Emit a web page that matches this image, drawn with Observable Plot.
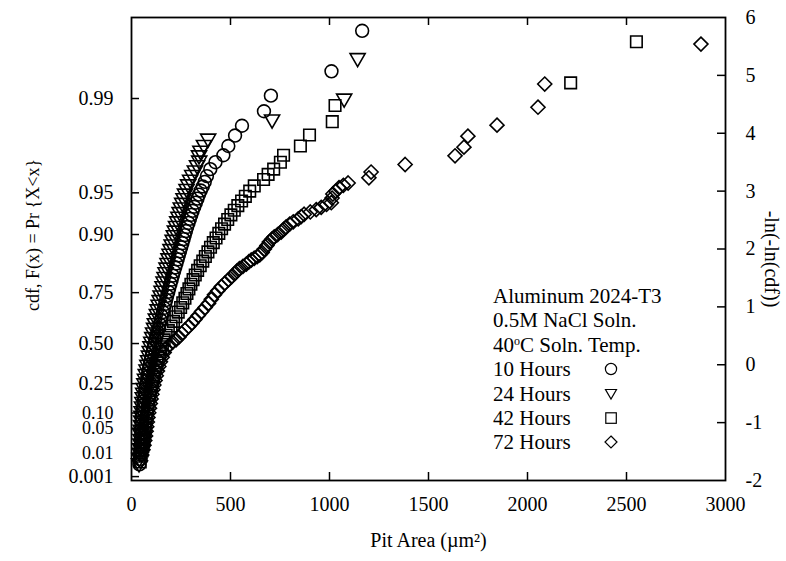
<!DOCTYPE html>
<html><head><meta charset="utf-8">
<script src="https://cdn.jsdelivr.net/npm/d3@7"></script>
<script src="https://cdn.jsdelivr.net/npm/@observablehq/plot@0.6"></script>
<style>
body{margin:0;background:#fff;}
#wrap{position:relative;width:786px;height:561px;font-family:"Liberation Serif",serif;color:#000;}
#legend{position:absolute;left:493px;top:284px;font-size:21px;line-height:24.4px;}
.row{white-space:nowrap;height:24.4px;position:relative;}
.row svg{position:absolute;left:111px;top:4px;overflow:visible;}
sup{font-size:12px;vertical-align:7px;line-height:0;}
</style></head><body><div id="wrap"><div id="legend"></div></div>
<script>
// ---- data: pit area (µm²) and reduced Gumbel variate -ln(-ln(cdf)) ----
const area10 = [40,42,44,46,47,48,49,50,51,52,53,54,56,58,60,62,64,67,70,73,77,80,84,88,92,97,101,106,111,116,121,126,132,137,142,148,153,159,164,170,175,180,186,191,197,203,209,215,221,227,233,239,245,251,257,263,269,275,281,288,295,302,309,317,325,333,341,350,360,370,381,398,424,464,489,523,558,669,704,1010,1165];
const lnln10 = [-1.72,-1.63,-1.55,-1.47,-1.40,-1.33,-1.26,-1.19,-1.12,-1.05,-0.98,-0.91,-0.84,-0.77,-0.70,-0.63,-0.56,-0.49,-0.42,-0.35,-0.28,-0.21,-0.14,-0.07,0.00,0.07,0.14,0.21,0.28,0.35,0.42,0.49,0.56,0.63,0.70,0.77,0.84,0.91,0.98,1.05,1.12,1.19,1.26,1.33,1.40,1.47,1.54,1.61,1.68,1.75,1.82,1.89,1.96,2.03,2.10,2.17,2.24,2.31,2.38,2.45,2.52,2.59,2.66,2.73,2.80,2.87,2.94,3.01,3.08,3.16,3.26,3.38,3.50,3.62,3.78,3.96,4.13,4.38,4.65,5.07,5.77];

const area24 = [38,40,42,44,45,46,47,47,48,49,50,51,53,55,57,59,62,65,68,72,76,80,84,88,92,96,100,105,109,114,118,123,128,132,137,142,147,152,157,162,167,172,177,182,187,192,197,203,208,214,219,225,231,237,243,249,256,263,270,278,286,296,307,320,331,342,341,348,366,387,710,1074,1142];
const lnln24 = [-1.70,-1.61,-1.52,-1.44,-1.36,-1.28,-1.20,-1.12,-1.04,-0.96,-0.88,-0.80,-0.72,-0.64,-0.56,-0.48,-0.40,-0.32,-0.24,-0.16,-0.08,0.00,0.08,0.16,0.24,0.32,0.40,0.48,0.56,0.64,0.72,0.80,0.88,0.96,1.04,1.12,1.20,1.28,1.36,1.44,1.52,1.60,1.68,1.76,1.84,1.92,2.00,2.08,2.16,2.24,2.32,2.40,2.48,2.56,2.64,2.72,2.80,2.88,2.96,3.04,3.12,3.20,3.28,3.36,3.45,3.53,3.62,3.70,3.80,3.91,4.24,4.60,5.30];

const area42 = [44,48,53,57,61,64,67,70,72,75,78,81,84,88,92,96,101,106,111,117,123,129,135,141,148,156,165,175,186,200,212,224,236,248,259,270,280,290,300,311,322,334,347,360,373,386,399,413,427,441,455,470,486,502,519,537,556,575,597,620,667,690,718,752,768,853,899,1014,1028,2218,2550];
const lnln42 = [-1.68,-1.58,-1.49,-1.41,-1.33,-1.25,-1.17,-1.09,-1.01,-0.93,-0.85,-0.77,-0.69,-0.61,-0.53,-0.45,-0.37,-0.29,-0.21,-0.13,-0.05,0.03,0.11,0.19,0.27,0.35,0.43,0.51,0.59,0.67,0.75,0.83,0.91,0.99,1.07,1.15,1.23,1.31,1.39,1.47,1.55,1.63,1.71,1.79,1.87,1.95,2.03,2.11,2.19,2.27,2.35,2.43,2.51,2.59,2.67,2.75,2.83,2.91,3.00,3.09,3.20,3.29,3.38,3.50,3.62,3.78,3.97,4.20,4.48,4.87,5.58];

const area72 = [46,52,58,63,67,71,74,77,80,83,87,91,95,99,103,108,113,119,125,131,138,146,155,165,175,190,208,225,240,254,270,289,305,320,337,354,372,389,403,419,436,454,472,490,505,520,533,545,563,580,593,605,620,635,648,660,671,684,696,709,721,738,756,768,781,799,817,842,857,872,903,933,958,985,1009,1013,1017,1032,1048,1070,1094,1199,1210,1382,1634,1679,1699,1846,2053,2087,2876];
const lnln72 = [-1.66,-1.56,-1.47,-1.39,-1.31,-1.23,-1.15,-1.07,-0.99,-0.91,-0.83,-0.75,-0.67,-0.59,-0.51,-0.43,-0.35,-0.27,-0.19,-0.11,-0.03,0.05,0.13,0.21,0.28,0.34,0.39,0.43,0.48,0.54,0.60,0.66,0.72,0.78,0.85,0.92,0.99,1.06,1.13,1.21,1.28,1.35,1.41,1.47,1.52,1.57,1.62,1.66,1.70,1.74,1.78,1.81,1.84,1.87,1.90,1.94,2.00,2.06,2.12,2.17,2.21,2.25,2.29,2.34,2.38,2.43,2.47,2.52,2.56,2.60,2.64,2.68,2.72,2.77,2.80,2.88,2.95,3.00,3.06,3.10,3.14,3.23,3.33,3.46,3.61,3.76,3.95,4.14,4.45,4.85,5.54];

// ---- ticks ----
const xTickValues = [0,500,1000,1500,2000,2500,3000];
const xInnerTicks = [500,1000,1500,2000,2500];
const yRightTicks = [-2,-1,0,1,2,3,4,5,6];
const yInnerTicks = [-1,0,1,2,3,4,5];
const cdfTickLabels = ["0.001","0.01","0.05","0.10","0.25","0.50","0.75","0.90","0.95","0.99"];
const crowdedLabels = ["0.01","0.05","0.10"];
const legendHeader = ["Aluminum 2024-T3","0.5M NaCl Soln.","40<sup>o</sup>C Soln. Temp."];
const seriesNames = ["10 Hours","24 Hours","42 Hours","72 Hours"];

// ---- symbols ----
const triDown = {draw(ctx, size){const s=Math.sqrt(size*4/Math.sqrt(3)),h=s*Math.sqrt(3)/2;ctx.moveTo(-s/2,-h/3);ctx.lineTo(s/2,-h/3);ctx.lineTo(0,2*h/3);ctx.closePath();}};
const diamond = {draw(ctx, size){const d=Math.sqrt(size/2);ctx.moveTo(0,-d);ctx.lineTo(d,0);ctx.lineTo(0,d);ctx.lineTo(-d,0);ctx.closePath();}};
const series = [
  {name:seriesNames[0], area:area10, y:lnln10, symbol:"circle", r:6.4},
  {name:seriesNames[1], area:area24, y:lnln24, symbol:triDown, r:5.6},
  {name:seriesNames[2], area:area42, y:lnln42, symbol:"square", r:6.5},
  {name:seriesNames[3], area:area72, y:lnln72, symbol:diamond, r:5.6}
];

const gumbel = p => -Math.log(-Math.log(p));
const cdfTicks = cdfTickLabels.map(s => ({pos: gumbel(+s), label: s, crowded: crowdedLabels.includes(s)}));

const W = 786, H = 561, mL = 131, mR = 61, mT = 17, mB = 81;
const innerW = W - mL - mR, innerH = H - mT - mB, tickLen = 8;

const dots = series.map(s => Plot.dot(s.area.map((a,i)=>({x:a, y:s.y[i]})), {
  x:"x", y:"y", symbol: s.symbol, r: s.r, fill:"none", stroke:"black", strokeWidth:1.6
}));

const chart = Plot.plot({
  width: W, height: H, marginLeft: mL, marginRight: mR, marginTop: mT, marginBottom: mB,
  style: {fontFamily:"'Liberation Serif', serif", fontSize:"20px", background:"white", color:"black", overflow:"visible"},
  x: {domain:[0,3000]},
  y: {domain:[-2,6]},
  symbol: {legend:false},
  marks: [
    ...dots,
    Plot.frame({stroke:"black", strokeWidth:1.8}),
    Plot.tickX(xInnerTicks, {x:d=>d, insetTop: innerH - tickLen, strokeWidth:1.5}),
    Plot.tickX(xInnerTicks, {x:d=>d, insetBottom: innerH - tickLen, strokeWidth:1.5}),
    Plot.tickY(yInnerTicks, {y:d=>d, insetLeft: innerW - tickLen, strokeWidth:1.5}),
    Plot.tickY(cdfTicks, {y:"pos", insetRight: innerW - tickLen, strokeWidth:1.5}),
    Plot.axisX(xTickValues, {anchor:"bottom", tickSize:0, tickPadding:16, label:null, tickFormat:d=>String(d)}),
    Plot.axisY(yRightTicks, {anchor:"right", tickSize:0, tickPadding:20, label:null, tickFormat:d=>String(d)}),
    Plot.text(cdfTicks.filter(d=>!d.crowded), {y:"pos", text:"label", frameAnchor:"left", textAnchor:"end", dx:-18, fontSize:20}),
    Plot.text(cdfTicks.filter(d=>d.crowded), {y:"pos", text:"label", frameAnchor:"left", textAnchor:"end", dx:-18, fontSize:18}),
    Plot.text(["Pit Area (\u00b5m\u00b2)"], {frameAnchor:"bottom", dy:66, fontSize:20}),
    Plot.text(["cdf, F(x) = Pr {X<x}"], {frameAnchor:"left", dx:-98, dy:-14, rotate:-90, textAnchor:"middle", fontSize:18}),
    Plot.text(["-ln(-ln(cdf))"], {frameAnchor:"right", dx:46, dy:10, rotate:90, textAnchor:"middle", fontSize:20})
  ]
});
document.getElementById("wrap").prepend(chart);

// ---- legend (text block inside the plot area) ----
const leg = document.getElementById("legend");
legendHeader.forEach(t => { const d=document.createElement("div"); d.className="row"; d.innerHTML=t; leg.appendChild(d); });
const legSym = [
  '<circle cx="7" cy="8" r="5.6" fill="none" stroke="black" stroke-width="1.2"/>',
  '<path d="M1.5,3.5 L12.5,3.5 L7,13 Z" fill="none" stroke="black" stroke-width="1.2"/>',
  '<rect x="1.8" y="2.8" width="10.5" height="10.5" fill="none" stroke="black" stroke-width="1.2"/>',
  '<path d="M7,2 L13,8 L7,14 L1,8 Z" fill="none" stroke="black" stroke-width="1.2"/>'
];
series.forEach((s,i) => {
  const d=document.createElement("div"); d.className="row";
  d.innerHTML = s.name + '<svg width="14" height="16">' + legSym[i] + '</svg>';
  leg.appendChild(d);
});
</script>
</body></html>
